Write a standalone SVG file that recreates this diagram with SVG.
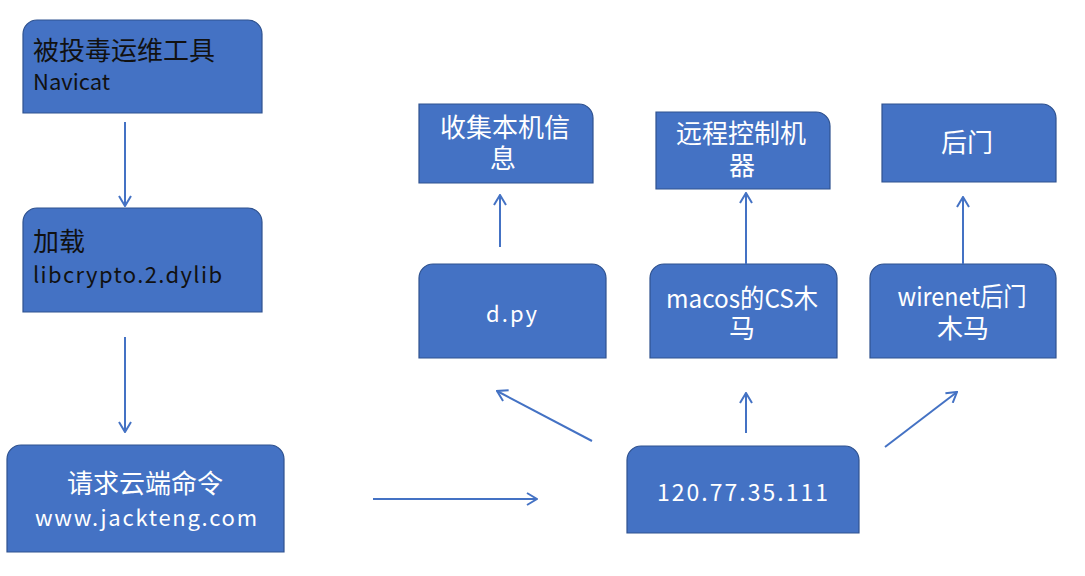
<svg xmlns="http://www.w3.org/2000/svg" width="1085" height="576" viewBox="0 0 1085 576">
<defs>
<style>
.box{fill:#4472C4;stroke:#2F528F;stroke-width:1.2}
.t{font-family:"Noto Sans CJK SC","Noto Sans",sans-serif;font-size:26px;fill:#ffffff}
.d{fill:#111111}
.l{font-size:22px}
.m{text-anchor:middle}
.c{fill:none;stroke:#4472C4;stroke-width:2}
</style>
<marker id="ah" viewBox="0 0 12 14" refX="11" refY="7" markerWidth="12" markerHeight="14" markerUnits="userSpaceOnUse" orient="auto">
<path d="M1,1 L11,7 L1,13" fill="none" stroke="#4472C4" stroke-width="2"/>
</marker>
</defs>
<rect width="1085" height="576" fill="#ffffff"/>

<g id="n-navicat">
<path class="box" d="M23,113 L23,34 A14,14 0 0 1 37,20 L248,20 A14,14 0 0 1 262,34 L262,113 Z"/>
<text class="t d" x="33" y="60">被投毒运维工具</text>
<text class="t d l" x="33" y="90">Navicat</text>
</g>

<g id="n-load">
<path class="box" d="M23,312 L23,222 A14,14 0 0 1 37,208 L248,208 A14,14 0 0 1 262,222 L262,312 Z"/>
<text class="t d" x="33" y="251">加载</text>
<text class="t d l" x="33" y="283" textLength="189" lengthAdjust="spacing">libcrypto.2.dylib</text>
</g>

<g id="n-request">
<path class="box" d="M7,552 L7,459 A14,14 0 0 1 21,445 L270,445 A14,14 0 0 1 284,459 L284,552 Z"/>
<text class="t m" x="145" y="493">请求云端命令</text>
<text class="t l" x="35" y="526" textLength="222" lengthAdjust="spacing">www.jackteng.com</text>
</g>

<g id="n-ip">
<path class="box" d="M627,533 L627,460 A14,14 0 0 1 641,446 L845,446 A14,14 0 0 1 859,460 L859,533 Z"/>
<text class="t l" x="657" y="501" font-size="23" textLength="171" lengthAdjust="spacing" style="font-size:23px">120.77.35.111</text>
</g>

<g id="n-dpy">
<path class="box" d="M419,358 L419,278 A14,14 0 0 1 433,264 L592,264 A14,14 0 0 1 606,278 L606,358 Z"/>
<text class="t l" x="486" y="322" textLength="51" lengthAdjust="spacing">d.py</text>
</g>

<g id="n-macos">
<path class="box" d="M650,358 L650,278 A14,14 0 0 1 664,264 L823,264 A14,14 0 0 1 837,278 L837,358 Z"/>
<text class="t m" x="742" y="308" textLength="152" lengthAdjust="spacingAndGlyphs">macos的CS木</text>
<text class="t m" x="742" y="338">马</text>
</g>

<g id="n-wirenet">
<path class="box" d="M870,358 L870,278 A14,14 0 0 1 884,264 L1042,264 A14,14 0 0 1 1056,278 L1056,358 Z"/>
<text class="t m" x="962" y="306" textLength="129" lengthAdjust="spacingAndGlyphs">wirenet后门</text>
<text class="t m" x="963" y="338">木马</text>
</g>

<g id="n-collect">
<path class="box" d="M419,104 L579,104 A14,14 0 0 1 593,118 L593,183 L419,183 Z"/>
<text class="t m" x="505" y="137">收集本机信</text>
<text class="t m" x="503" y="168">息</text>
</g>

<g id="n-remote">
<path class="box" d="M656,112 L816,112 A14,14 0 0 1 830,126 L830,189 L656,189 Z"/>
<text class="t m" x="741" y="143">远程控制机</text>
<text class="t m" x="742" y="175">器</text>
</g>

<g id="n-backdoor">
<path class="box" d="M882,104 L1042,104 A14,14 0 0 1 1056,118 L1056,182 L882,182 Z"/>
<text class="t m" x="967" y="152">后门</text>
</g>

<g id="connectors">
<line class="c" x1="125" y1="122" x2="125" y2="206" marker-end="url(#ah)"/>
<line class="c" x1="125" y1="337" x2="125" y2="432" marker-end="url(#ah)"/>
<line class="c" x1="373" y1="499" x2="537" y2="499" marker-end="url(#ah)"/>
<line class="c" x1="592" y1="441" x2="497" y2="391" marker-end="url(#ah)"/>
<line class="c" x1="746" y1="433" x2="746" y2="393" marker-end="url(#ah)"/>
<line class="c" x1="885" y1="447" x2="957" y2="392" marker-end="url(#ah)"/>
<line class="c" x1="500" y1="247" x2="500" y2="195" marker-end="url(#ah)"/>
<line class="c" x1="746" y1="264" x2="746" y2="193" marker-end="url(#ah)"/>
<line class="c" x1="963" y1="264" x2="963" y2="197" marker-end="url(#ah)"/>
</g>
</svg>
